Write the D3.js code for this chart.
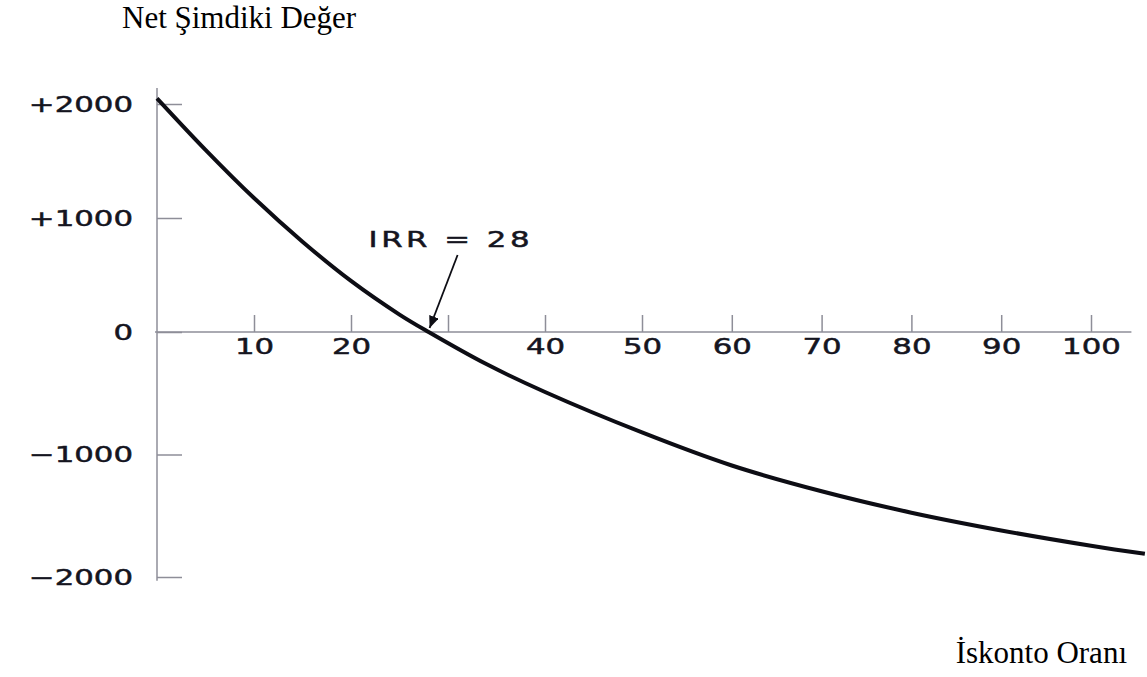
<!DOCTYPE html>
<html lang="tr">
<head>
  <meta charset="UTF-8"/>
  <title>Net Şimdiki Değer</title>
  <script src="https://d3js.org/d3.v7.min.js"></script>
<style>
body {
  margin: 0;
  background: #fff;
}

svg {
  display: block;
}

.axis path,
.axis line,
line.axis-line {
  stroke: #8e8e98;
  stroke-width: 1.5;
}

.axis text,
text.irr {
  font-family: 'DejaVu Sans', sans-serif;
  font-size: 22px;
  fill: #15151f;
  stroke: #15151f;
  stroke-width: 0.5;
}

text.irr {
  letter-spacing: 2.5px;
}

text.label {
  font-family: 'Liberation Serif', 'Times New Roman', serif;
  font-size: 31px;
  fill: #000;
}

path.curve {
  fill: none;
  stroke: #0d0d14;
  stroke-width: 4;
}

line.arrow {
  stroke: #0d0d14;
  stroke-width: 1.8;
}
</style>
</head>
<body>
<script>
    // discount rate (%) and net present value
    const rates = [0, 5, 10, 15, 20, 25, 28, 34, 40, 50, 60, 70, 80, 90, 100, 106];
    const npv = [2050, 1598, 1175, 792, 448, 153, 0, -264, -490, -820, -1090, -1300, -1475, -1620, -1745, -1811];

    const xTicks = [10, 20, 30, 40, 50, 60, 70, 80, 90, 100];
    const xTickLabels = ['10', '20', '', '40', '50', '60', '70', '80', '90', '100'];
    const yTicks = [2000, 1000, 0, -1000, -2000];
    const yTickLabels = ['+2000', '+1000', '0', '\u22121000', '\u22122000'];
    const irr = 28;

    const width = 1147;
    const height = 677;
    const stretch = 1.4; // the scanned digits are much wider than DejaVu's

    const svg = d3.select('body').append('svg')
      .attr('width', width)
      .attr('height', height);

    // the scan is slightly uneven, so each half of the axes gets its own segment
    const xScale = d3.scaleLinear()
      .domain([0, 50, 100])
      .range([157, 642, 1091]);

    const yScale = d3.scaleLinear()
      .domain([-2000, 0, 2000])
      .range([577, 332, 104]);

    // axis lines
    svg.append('line')
      .attr('class', 'axis-line')
      .attr('x1', xScale(0)).attr('x2', xScale(0))
      .attr('y1', yScale(2140)).attr('y2', yScale(-2030));

    svg.append('line')
      .attr('class', 'axis-line')
      .attr('x1', xScale(0) - 2).attr('x2', xScale(104.5))
      .attr('y1', yScale(0)).attr('y2', yScale(0));

    // x ticks point up, labels sit under the line
    const xAxis = svg.append('g')
      .attr('class', 'axis')
      .attr('transform', `translate(0, ${yScale(0)})`)
      .call(d3.axisBottom(xScale)
        .tickValues(xTicks)
        .tickSizeInner(-17)
        .tickSizeOuter(0)
        .tickPadding(6)
        .tickFormat((d) => xTickLabels[xTicks.indexOf(d)]));

    xAxis.select('.domain').remove();
    xAxis.selectAll('text')
      .attr('transform', `scale(${stretch}, 1)`);

    // y ticks point right, labels to the left of the line
    const yAxis = svg.append('g')
      .attr('class', 'axis')
      .attr('transform', `translate(${xScale(0)}, 0)`)
      .call(d3.axisRight(yScale)
        .tickValues(yTicks)
        .tickSizeInner(25)
        .tickSizeOuter(0)
        .tickFormat((d) => yTickLabels[yTicks.indexOf(d)]));

    yAxis.select('.domain').remove();
    yAxis.selectAll('text')
      .attr('x', -24 / stretch)
      .attr('text-anchor', 'end')
      .attr('transform', `scale(${stretch}, 1)`);

    // NPV curve
    const line = d3.line()
      .x((d) => xScale(d[0]))
      .y((d) => yScale(d[1]))
      .curve(d3.curveCatmullRom.alpha(0.5));

    svg.append('path')
      .datum(d3.zip(rates, npv))
      .attr('class', 'curve')
      .attr('d', line);

    // IRR annotation
    svg.append('defs').append('marker')
      .attr('id', 'head')
      .attr('markerUnits', 'userSpaceOnUse')
      .attr('viewBox', '0 0 12 10')
      .attr('refX', 12)
      .attr('refY', 5)
      .attr('markerWidth', 12)
      .attr('markerHeight', 10)
      .attr('orient', 'auto')
      .append('path')
      .attr('d', 'M0,0 L12,5 L0,10 Z')
      .attr('fill', '#0d0d14');

    const tipX = xScale(irr) + 1;
    const tipY = yScale(0) - 4;

    svg.append('line')
      .attr('class', 'arrow')
      .attr('x1', tipX + 28)
      .attr('y1', tipY - 73)
      .attr('x2', tipX)
      .attr('y2', tipY)
      .attr('marker-end', 'url(#head)');

    svg.append('g')
      .attr('transform', `translate(${xScale(irr) - 60}, ${yScale(0) - 85})`)
      .append('text')
      .attr('class', 'irr')
      .attr('transform', `scale(${stretch}, 1)`)
      .text(`IRR = ${irr}`);

    // axis titles
    svg.append('text')
      .attr('class', 'label')
      .attr('x', 122)
      .attr('y', 28)
      .text('Net Şimdiki Değer');

    svg.append('text')
      .attr('class', 'label')
      .attr('x', 1127)
      .attr('y', 663)
      .attr('text-anchor', 'end')
      .text('İskonto Oranı');
</script>
</body>
</html>
